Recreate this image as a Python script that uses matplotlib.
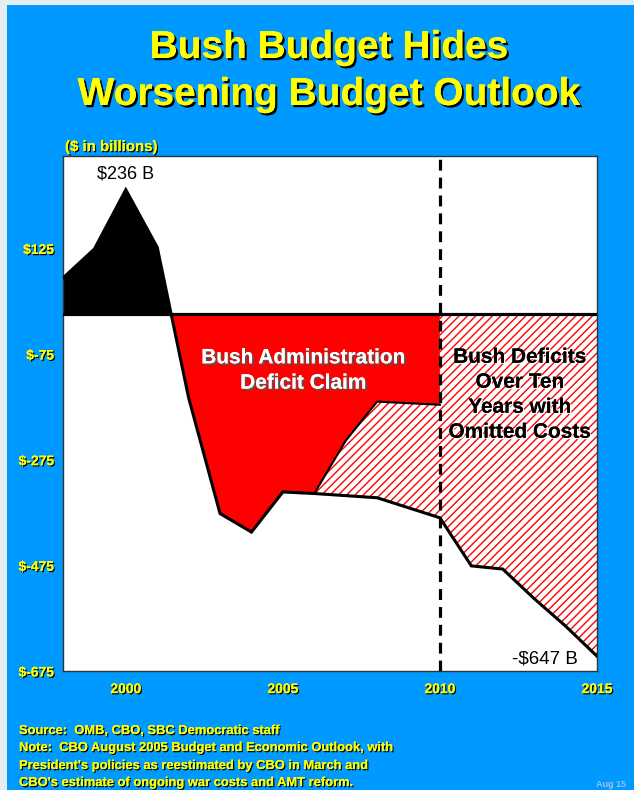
import matplotlib
matplotlib.use("Agg")
import matplotlib.pyplot as plt
import matplotlib.patheffects as pe
from matplotlib.patches import Rectangle
import numpy as np

plt.rcParams['font.family'] = ['Liberation Sans', 'DejaVu Sans']
plt.rcParams['hatch.linewidth'] = 1.0

# Budget balance, $ billions
actual_years = [1998, 1999, 2000, 2001, 2002, 2003, 2004, 2005]
actual_balance = [69, 124, 236, 127, -158, -377, -412, -336]

claim_years = [2006, 2007, 2008, 2009, 2010]
claim_balance = [-339, -239, -165, -168, -171]

full_years = [2006, 2007, 2008, 2009, 2010, 2011, 2012, 2013, 2014, 2015]
full_balance = [-339, -343, -347, -366, -385, -476, -482, -538, -590, -647]

ytick_values = [125, -75, -275, -475, -675]
ytick_labels = ['$125', '$-75', '$-275', '$-475', '$-675']
xtick_values = [2000, 2005, 2010, 2015]

title_lines = ["Bush Budget Hides", "Worsening Budget Outlook"]
footer_lines = [
    "Source:  OMB, CBO, SBC Democratic staff",
    "Note:  CBO August 2005 Budget and Economic Outlook, with",
    "President's policies as reestimated by CBO in March and",
    "CBO's estimate of ongoing war costs and AMT reform.",
]

W, H = 634, 790
BLUE = '#0099FF'
YELLOW = '#FFFF00'

fig = plt.figure(figsize=(W / 100, H / 100), dpi=100)
fig.patch.set_facecolor('#E4ECF4')
fig.add_artist(Rectangle((7 / W, 0), 1 - 7 / W, 1 - 5 / H, transform=fig.transFigure,
                         facecolor=BLUE, edgecolor='none', zorder=0))


def fpos(x, y):
    return x / W, 1 - y / H


shadow_dark = [pe.withSimplePatchShadow(offset=(1.6, -1.6), shadow_rgbFace='black', alpha=1.0), pe.Normal()]
shadow_small = [pe.withSimplePatchShadow(offset=(0.9, -0.9), shadow_rgbFace='black', alpha=1.0), pe.Normal()]

ax = fig.add_axes([63 / W, 1 - 671 / H, (597 - 63) / W, (671 - 156) / H])
ax.set_facecolor('white')
ax.set_xlim(1998, 2015)
ax.set_ylim(-675, 300)

# Surplus years (black)
sx = np.array(actual_years[:5], dtype=float)
sy = np.array(actual_balance[:5], dtype=float)
ax.fill_between(sx, sy, 0, where=sy >= 0, interpolate=True, facecolor='black', edgecolor='none', zorder=2)

# Administration deficit claim (red)
cx = np.array(actual_years[3:] + claim_years, dtype=float)
cy = np.array(actual_balance[3:] + claim_balance, dtype=float)
ax.fill_between(cx, cy, 0, where=cy <= 0, interpolate=True, facecolor='red', edgecolor='none', zorder=2)

# Omitted costs (hatched)
hx = claim_years + full_years[4:]
h_top = claim_balance + [0] * len(full_years[4:])
h_bot = full_balance[:5] + full_balance[4:]
ax.fill_between(hx, h_top, h_bot, facecolor='white', edgecolor='red', linewidth=0,
                hatch='////', zorder=2)

# Zero line
ax.axhline(0, color='black', lw=2.3, zorder=3)

# Outlines
ax.plot(actual_years + full_years, actual_balance + full_balance, color='black',
        lw=2.2, solid_joinstyle='miter', zorder=4)
ax.plot(claim_years, claim_balance, color='black', lw=1.5, zorder=4)

# 2010 divider
ax.axvline(2010, color='black', lw=2.3, dashes=(3.4, 2.2), zorder=5)

ax.set_yticks(ytick_values)
ax.set_yticklabels(ytick_labels)
ax.set_xticks(xtick_values)
ax.set_xticklabels([str(v) for v in xtick_values])
ax.tick_params(length=0)
ax.tick_params(axis='y', pad=6.5)
ax.tick_params(axis='x', pad=8)
for lab in ax.get_yticklabels() + ax.get_xticklabels():
    lab.set_color(YELLOW)
    lab.set_fontweight('bold')
    lab.set_fontsize(10)
    lab.set_path_effects(shadow_small)
for sp in ax.spines.values():
    sp.set_color('#333333')
    sp.set_linewidth(1.0)

# Value labels
peak = max(actual_balance)
ax.text(actual_years[actual_balance.index(peak)], peak + 14, f"${peak} B", ha='center', va='bottom',
        fontsize=13, color='black', zorder=6)
last = full_balance[-1]
ax.text(2013.35, -652, f"-${abs(last)} B", ha='center', va='center', fontsize=13.5,
        color='black', zorder=6)

# Region labels
ax.text(2005.66, -106, "Bush Administration\nDeficit Claim", ha='center', va='center',
        fontsize=15, fontweight='bold', color='white', linespacing=1.42, zorder=6,
        path_effects=[pe.withSimplePatchShadow(offset=(1.2, -1.2), shadow_rgbFace='#555555', alpha=1.0), pe.Normal()])
ax.text(2012.55, -152, "Bush Deficits\nOver Ten\nYears with\nOmitted Costs", ha='center', va='center',
        fontsize=15, fontweight='bold', color='black', linespacing=1.4, zorder=6,
        path_effects=[pe.withSimplePatchShadow(offset=(1.0, -1.0), shadow_rgbFace='white', alpha=1.0), pe.Normal()])

# Title
for line, yb in zip(title_lines, [58, 105]):
    fig.text(*fpos(329, yb), line, ha='center', va='baseline', fontsize=28, fontweight='bold',
             color=YELLOW, path_effects=shadow_dark)

fig.text(*fpos(65, 151), "($ in billions)", ha='left', va='baseline', fontsize=10.8, fontweight='bold',
         color=YELLOW, path_effects=shadow_small)

for line, yb in zip(footer_lines, [734, 751, 769, 786]):
    fig.text(*fpos(19, yb), line, ha='left', va='baseline', fontsize=9.3, fontweight='bold',
             color=YELLOW, path_effects=shadow_small)

fig.text(*fpos(626, 787), "Aug 15", ha='right', va='baseline', fontsize=6.5, fontweight='bold',
         color='#9CC4EA')

fig.savefig('out.png', dpi=100, facecolor=fig.get_facecolor())
